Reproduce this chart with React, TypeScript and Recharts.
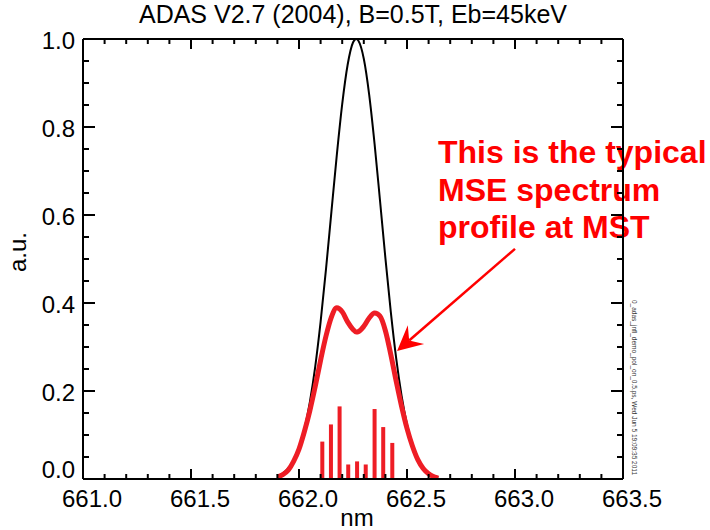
import React from 'react';
import { ComposedChart, Line, Bar, XAxis, YAxis, ReferenceLine } from 'recharts';

// wavelength grid (nm) for the two profiles
const wavelength = [661.9, 661.925, 661.95, 661.975, 662.0, 662.025, 662.05, 662.075, 662.1, 662.125, 662.15, 662.175, 662.2, 662.225, 662.25, 662.265, 662.275, 662.3, 662.325, 662.35, 662.375, 662.4, 662.425, 662.45, 662.475, 662.5, 662.525, 662.55, 662.575, 662.6, 662.625, 662.645];
// black: unpolarised full profile
const fullProfile = [0.007, 0.013, 0.024, 0.042, 0.07, 0.113, 0.174, 0.255, 0.357, 0.477, 0.607, 0.736, 0.852, 0.941, 0.992, 1.0, 0.996, 0.955, 0.873, 0.761, 0.633, 0.502, 0.38, 0.274, 0.189, 0.124, 0.078, 0.046, 0.026, 0.014, 0.007, 0.004];
// red: MSE spectrum profile
const mseProfile = [0.005, 0.01, 0.02, 0.04, 0.068, 0.108, 0.155, 0.21, 0.27, 0.325, 0.368, 0.389, 0.38, 0.357, 0.34, 0.334, 0.335, 0.347, 0.366, 0.377, 0.37, 0.337, 0.283, 0.222, 0.165, 0.115, 0.075, 0.044, 0.024, 0.012, 0.005, 0.002];
// Stark components (sticks)
const stickWavelength = [662.108, 662.148, 662.188, 662.228, 662.269, 662.309, 662.35, 662.39, 662.432];
const stickIntensity = [0.085, 0.124, 0.165, 0.033, 0.04, 0.033, 0.159, 0.118, 0.082];

const xTicks = [661.0, 661.1, 661.2, 661.3, 661.4, 661.5, 661.6, 661.7, 661.8, 661.9, 662.0, 662.1, 662.2, 662.3, 662.4, 662.5, 662.6, 662.7, 662.8, 662.9, 663.0, 663.1, 663.2, 663.3, 663.4, 663.5];
const yTicks = [0, 0.05, 0.1, 0.15, 0.2, 0.25, 0.3, 0.35, 0.4, 0.45, 0.5, 0.55, 0.6, 0.65, 0.7, 0.75, 0.8, 0.85, 0.9, 0.95, 1.0];

const title = 'ADAS V2.7 (2004), B=0.5T, Eb=45keV';
const noteLines = ['This is the typical', 'MSE spectrum', 'profile at MST'];
const stamp = '0_adas_jnfl_demo_pol_on_0.5.ps, Wed Jun  5 19:09:35 2011';

const FONT = '"Liberation Sans", Arial, Helvetica, sans-serif';
const RED = '#EE1D25';

const rows = wavelength
  .map((w, i) => ({ nm: w, full: fullProfile[i], mse: mseProfile[i] } as any))
  .concat(stickWavelength.map((w, i) => ({ nm: w, stick: stickIntensity[i] })))
  .sort((a, b) => a.nm - b.nm);

const isMajor = (v: number, step: number) => Math.abs(v / step - Math.round(v / step)) < 1e-6;

const BottomTick = (p: any) => {
  const v = p.payload.value;
  const major = isMajor(v, 0.5);
  return (
    <g>
      <line x1={p.x} y1={p.y} x2={p.x} y2={p.y - (major ? 10 : 5)} stroke="#000" strokeWidth={2} />
      {major && (
        <text x={p.x + 9} y={p.y + 28} textAnchor="middle" fontSize={24} fontFamily={FONT} fill="#000">
          {v.toFixed(1)}
        </text>
      )}
    </g>
  );
};

const TopTick = (p: any) => {
  const major = isMajor(p.payload.value, 0.5);
  return <line x1={p.x} y1={p.y} x2={p.x} y2={p.y + (major ? 10 : 5)} stroke="#000" strokeWidth={2} />;
};

const LeftTick = (p: any) => {
  const v = p.payload.value;
  const major = isMajor(v, 0.2);
  return (
    <g>
      <line x1={p.x} y1={p.y} x2={p.x + (major ? 12 : 6)} y2={p.y} stroke="#000" strokeWidth={2} />
      {major && (
        <text x={p.x - 8} y={v === 0 ? p.y - 1 : p.y + 10} textAnchor="end" fontSize={24} fontFamily={FONT} fill="#000">
          {v.toFixed(1)}
        </text>
      )}
    </g>
  );
};

const RightTick = (p: any) => {
  const major = isMajor(p.payload.value, 0.2);
  return <line x1={p.x} y1={p.y} x2={p.x - (major ? 12 : 6)} y2={p.y} stroke="#000" strokeWidth={2} />;
};

// sticks: keep the scaled centre and height, draw at a fixed 4px width
const Stick = (p: any) => {
  if (p.height == null || !p.width) return null;
  const cx = p.x + p.width / 2;
  return <rect x={cx - 2} y={p.y} width={4} height={p.height} fill={RED} />;
};

const Arrow = (p: any) => {
  const { x1, y1, x2, y2 } = p;
  const len = Math.hypot(x1 - x2, y1 - y2);
  const ux = (x1 - x2) / len;
  const uy = (y1 - y2) / len;
  const nx = -uy;
  const ny = ux;
  const head = 25;
  const half = 12.5;
  const notch = 16;
  const pts = [
    [x2, y2],
    [x2 + ux * head + nx * half, y2 + uy * head + ny * half],
    [x2 + ux * notch, y2 + uy * notch],
    [x2 + ux * head - nx * half, y2 + uy * head - ny * half],
  ].map(q => q.join(',')).join(' ');
  return (
    <g>
      <line x1={x1} y1={y1} x2={x2 + ux * notch} y2={y2 + uy * notch} stroke="#FF0000" strokeWidth={2.5} />
      <polygon points={pts} fill="#FF0000" />
    </g>
  );
};

const axisLine = { stroke: '#000', strokeWidth: 2 };

export default function App() {
  return (
    <div style={{ position: 'absolute', left: 0, top: 0, width: 710, height: 530, background: '#fff' }}>
      <ComposedChart width={710} height={530} data={rows} margin={{ top: 38, right: 86, bottom: 50, left: 82 }}>
        <XAxis dataKey="nm" type="number" domain={[661, 663.5]} ticks={xTicks} interval={0} height={1}
          tickSize={0} tickMargin={0} tickLine={false} axisLine={axisLine} tick={<BottomTick />} allowDataOverflow />
        <XAxis xAxisId="top" orientation="top" dataKey="nm" type="number" domain={[661, 663.5]} ticks={xTicks} interval={0} height={1}
          tickSize={0} tickMargin={0} tickLine={false} axisLine={axisLine} tick={<TopTick />} allowDataOverflow />
        <YAxis type="number" domain={[0, 1]} ticks={yTicks} interval={0} width={1}
          tickSize={0} tickMargin={0} tickLine={false} axisLine={axisLine} tick={<LeftTick />} allowDataOverflow />
        <YAxis yAxisId="right" orientation="right" type="number" domain={[0, 1]} ticks={yTicks} interval={0} width={1}
          tickSize={0} tickMargin={0} tickLine={false} axisLine={axisLine} tick={<RightTick />} allowDataOverflow />

        <Bar dataKey="stick" fill={RED} barSize={4} shape={<Stick />} isAnimationActive={false} />
        <Line dataKey="full" type="monotone" stroke="#000" strokeWidth={2} dot={false} activeDot={false} connectNulls isAnimationActive={false} />
        <Line dataKey="mse" type="monotone" stroke={RED} strokeWidth={5} dot={false} activeDot={false} connectNulls isAnimationActive={false} />

        <ReferenceLine segment={[{ x: 663.0, y: 0.523 }, { x: 662.454, y: 0.291 }]} shape={<Arrow />} />

        <text x={353} y={23} textAnchor="middle" fontSize={25} fontFamily={FONT} fill="#000">{title}</text>
        <text x={357} y={526} textAnchor="middle" fontSize={24} fontFamily={FONT} fill="#000">nm</text>
        <text x={26} y={252} textAnchor="middle" fontSize={24} fontFamily={FONT} fill="#000" transform="rotate(-90 26 252)">a.u.</text>
        {noteLines.map((t, i) => (
          <text key={t} x={438} y={163 + i * 37.5} fontSize={32} fontWeight="bold" fontFamily={FONT} fill="#FF0000">{t}</text>
        ))}
        <text x={632} y={300} fontSize={6.5} fontFamily={FONT} fill="#333" transform="rotate(90 632 300)">{stamp}</text>
      </ComposedChart>
    </div>
  );
}
